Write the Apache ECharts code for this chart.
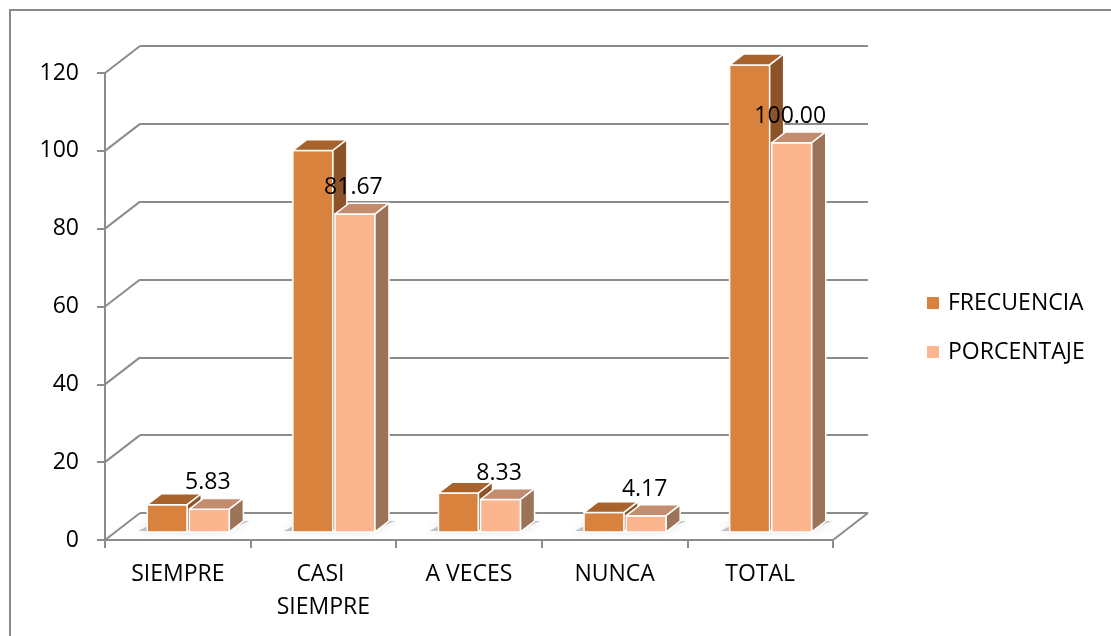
<!DOCTYPE html>
<html>
<head>
<meta charset="utf-8">
<script src="https://cdn.jsdelivr.net/npm/echarts@6/dist/echarts.min.js"></script>
<style>
  html, body { margin: 0; padding: 0; background: #fff; }
  #chart { width: 1111px; height: 636px; }
</style>
</head>
<body>
<div id="chart"></div>
<script>
// Survey answers: absolute frequency and percentage per option
const categories = ['SIEMPRE', 'CASI SIEMPRE', 'A VECES', 'NUNCA', 'TOTAL'];
const frecuencia = [7, 98, 10, 5, 120];
const porcentaje = [5.83, 81.67, 8.33, 4.17, 100.00];
const yTicks = [0, 20, 40, 60, 80, 100, 120];
const seriesNames = ['FRECUENCIA', 'PORCENTAJE'];

const FONT_FAMILY = '"Open Sans", "Noto Sans", sans-serif';
const FONT_SIZE = 23;
const TEXT_COLOR = '#000000';
const LINE_COLOR = '#8c8c8c';

// Depth vector of the 3-D box (front plane -> back wall), in pixels
const DX = 35, DY = -27;
// Bars occupy this slice of the box depth
const BAR_FRONT = 0.3, BAR_BACK = 0.7;
// Bar width and the gap between the pair, as fractions of a category
const BAR_FRAC = 0.275, BAR_GAP = 0.007;

const palette = {
  FRECUENCIA: { front: '#D9823E', top: '#A8622C', side: '#8B5327' },
  PORCENTAJE: { front: '#FBB58F', top: '#C38C6E', side: '#9D7358' }
};

function barRenderer(name, side, zBase, withLabel) {
  const c = palette[name];
  return function (params, api) {
    const cat = api.value(0);
    const val = api.value(1);
    const base = api.coord([cat, 0]);
    const top = api.coord([cat, val]);
    const catW = api.size([1, 0])[0];
    const bw = catW * BAR_FRAC;
    const gap = catW * BAR_GAP;
    const ox = DX * BAR_FRONT, oy = DY * BAR_FRONT;
    const dx = DX * (BAR_BACK - BAR_FRONT), dy = DY * (BAR_BACK - BAR_FRONT);
    const x0 = base[0] + ox + (side < 0 ? -gap - bw : gap);
    const x1 = x0 + bw;
    const yb = base[1] + oy;
    const yt = top[1] + oy;
    const edge = { stroke: '#ffffff', lineWidth: 1.5, lineJoin: 'round' };
    const children = [
      // soft contact shadow cast on the floor
      {
        type: 'polygon', z2: 1,
        shape: { points: [[x0 - 9, yb - 1], [x1 - 4, yb - 1], [x1 + dx + 6, yb + dy], [x0 + dx - 4, yb + dy]] },
        style: { fill: 'rgba(90,90,90,0.35)', shadowBlur: 10, shadowColor: 'rgba(0,0,0,0.45)' }
      },
      {
        type: 'rect', z2: zBase,
        shape: { x: x0, y: yt, width: bw, height: yb - yt },
        style: Object.assign({ fill: c.front }, edge)
      },
      {
        type: 'polygon', z2: zBase + 1,
        shape: { points: [[x0, yt], [x1, yt], [x1 + dx, yt + dy], [x0 + dx, yt + dy]] },
        style: Object.assign({ fill: c.top }, edge)
      },
      {
        type: 'polygon', z2: zBase + 1,
        shape: { points: [[x1, yt], [x1, yb], [x1 + dx, yb + dy], [x1 + dx, yt + dy]] },
        style: Object.assign({ fill: c.side }, edge)
      }
    ];
    if (withLabel) {
      children.push({
        type: 'text', z2: 50,
        style: {
          text: val.toFixed(2),
          x: (x0 + x1) / 2 - 1.5,
          y: yt - 26.5,
          align: 'center',
          verticalAlign: 'middle',
          font: FONT_SIZE + 'px ' + FONT_FAMILY,
          fill: TEXT_COLOR
        }
      });
    }
    return { type: 'group', children: children };
  };
}

// Diagonal edges joining the front axis to the back wall at every tick
function wallRenderer(params, api) {
  const v = api.value(1);
  const p = api.coord([0, v]);
  const cs = params.coordSys;
  const style = { stroke: LINE_COLOR, lineWidth: 2 };
  const lines = [{
    type: 'line',
    shape: { x1: cs.x, y1: p[1], x2: cs.x + DX, y2: p[1] + DY },
    style: style
  }];
  if (v === 0) {
    lines.push({
      type: 'line',
      shape: { x1: cs.x + cs.width, y1: p[1], x2: cs.x + cs.width + DX, y2: p[1] + DY },
      style: style
    });
  }
  return { type: 'group', children: lines };
}

const chart = echarts.init(document.getElementById('chart'));

const axisText = { fontFamily: FONT_FAMILY, fontSize: FONT_SIZE, color: TEXT_COLOR };

chart.setOption({
  animation: false,
  backgroundColor: '#ffffff',
  graphic: [{
    type: 'rect',
    shape: { x: 10, y: 10, width: 1130, height: 660 },
    style: { fill: 'none', stroke: '#8a8a8a', lineWidth: 2 },
    silent: true
  }],
  legend: {
    orient: 'vertical',
    left: 927,
    top: 291,
    padding: 0,
    itemWidth: 12,
    itemHeight: 12,
    itemGap: 25,
    icon: 'rect',
    data: seriesNames,
    textStyle: Object.assign({ lineHeight: 24, padding: [0, 0, 0, 4] }, axisText)
  },
  grid: [
    // front plane: axis line, ticks and labels
    { left: 105, top: 73, width: 728, height: 467 },
    // back wall: horizontal gridlines
    { left: 105 + DX, top: 73 + DY, width: 728, height: 467 }
  ],
  xAxis: [
    {
      type: 'category', gridIndex: 0, data: categories,
      axisLine: { show: true, lineStyle: { color: LINE_COLOR, width: 2 } },
      axisTick: { show: true, length: 8, lineStyle: { color: LINE_COLOR, width: 2 } },
      axisLabel: Object.assign({
        margin: 18, interval: 0, width: 120, overflow: 'break', lineHeight: 33, align: 'center'
      }, axisText)
    },
    {
      type: 'category', gridIndex: 1, data: categories, show: false
    }
  ],
  yAxis: [
    {
      type: 'value', gridIndex: 0, min: 0, max: 120, interval: 20,
      axisLine: { show: true, lineStyle: { color: LINE_COLOR, width: 2 } },
      axisTick: { show: true, length: 8, lineStyle: { color: LINE_COLOR, width: 2 } },
      axisLabel: Object.assign({ margin: 26 }, axisText),
      splitLine: { show: false }
    },
    {
      type: 'value', gridIndex: 1, min: 0, max: 120, interval: 20,
      axisLine: { show: false }, axisTick: { show: false }, axisLabel: { show: false },
      splitLine: { show: true, lineStyle: { color: LINE_COLOR, width: 2 } }
    }
  ],
  series: [
    {
      type: 'custom', name: 'wall', xAxisIndex: 0, yAxisIndex: 0, z: 1,
      renderItem: wallRenderer,
      data: yTicks.map(function (v) { return [0, v]; }),
      silent: true
    },
    {
      type: 'custom', name: seriesNames[0], xAxisIndex: 0, yAxisIndex: 0, z: 2,
      itemStyle: { color: palette.FRECUENCIA.front },
      renderItem: barRenderer(seriesNames[0], -1, 10, false),
      data: frecuencia.map(function (v, i) { return [i, v]; })
    },
    {
      type: 'custom', name: seriesNames[1], xAxisIndex: 0, yAxisIndex: 0, z: 2,
      itemStyle: { color: palette.PORCENTAJE.front },
      renderItem: barRenderer(seriesNames[1], 1, 20, true),
      data: porcentaje.map(function (v, i) { return [i, v]; })
    }
  ]
});
</script>
</body>
</html>
